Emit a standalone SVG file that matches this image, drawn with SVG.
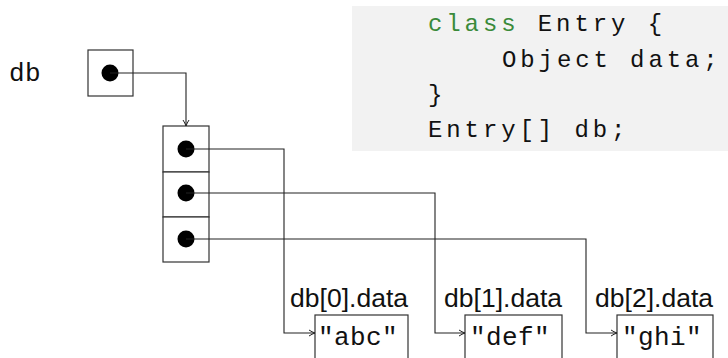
<svg xmlns="http://www.w3.org/2000/svg" width="728" height="358" viewBox="0 0 728 358">
<style>
.box{fill:#fff;stroke:#333;stroke-width:1.2}
.dot{fill:#000}
.wire{fill:none;stroke:#222;stroke-width:1.1}
.mono{font-family:"Liberation Mono","DejaVu Sans Mono",monospace;fill:#111}
.code{font-size:24px;letter-spacing:3.9px}
.kw{fill:#3a8a3a}
.lbl{font-family:"Liberation Sans",Arial,sans-serif;font-size:26.5px;fill:#111;text-anchor:end}
.str{font-size:26px;letter-spacing:0.4px}
</style>
<defs>
<marker id="arr" viewBox="0 0 8 8" refX="7" refY="4" markerWidth="8" markerHeight="8" markerUnits="userSpaceOnUse" orient="auto">
<path d="M1,1 Q4,3 7,4 Q4,5 1,7" fill="none" stroke="#222" stroke-width="1"/>
</marker>
</defs>
<g id="code">
<rect x="352" y="6" width="376" height="145" fill="#f2f2f2"/>
<text class="mono code" x="428" y="31"><tspan class="kw">class</tspan> Entry {</text>
<text class="mono code" x="502" y="67">Object data;</text>
<text class="mono code" x="428" y="102">}</text>
<text class="mono code" x="428" y="137">Entry[] db;</text>
</g>
<g id="db">
<text class="mono str" x="9" y="81">db</text>
<rect class="box" x="88" y="50" width="45" height="46"/>
<circle class="dot" cx="110" cy="73" r="8.5"/>
</g>
<g id="array">
<rect class="box" x="163" y="126" width="46" height="46"/>
<rect class="box" x="163" y="172" width="46" height="45"/>
<rect class="box" x="163" y="217" width="46" height="45"/>
<circle class="dot" cx="186" cy="149" r="8.5"/>
<circle class="dot" cx="186" cy="193" r="8.5"/>
<circle class="dot" cx="186" cy="239" r="8.5"/>
</g>
<g id="abc">
<text class="lbl" x="408" y="307">db[0].data</text>
<rect class="box" x="315" y="315" width="93" height="60"/>
<text class="mono str" x="318" y="345">"abc"</text>
</g>
<g id="def">
<text class="lbl" x="562" y="307">db[1].data</text>
<rect class="box" x="465" y="315" width="97" height="60"/>
<text class="mono str" x="470" y="345">"def"</text>
</g>
<g id="ghi">
<text class="lbl" x="713" y="307">db[2].data</text>
<rect class="box" x="617" y="315" width="96" height="60"/>
<text class="mono str" x="622" y="345">"ghi"</text>
</g>
<g id="connectors">
<path class="wire" d="M110,73 H186 V126" marker-end="url(#arr)"/>
<path class="wire" d="M186,149 H284 V333 H315" marker-end="url(#arr)"/>
<path class="wire" d="M186,193 H435 V333 H465" marker-end="url(#arr)"/>
<path class="wire" d="M186,239 H586 V333 H617" marker-end="url(#arr)"/>
</g>
</svg>
